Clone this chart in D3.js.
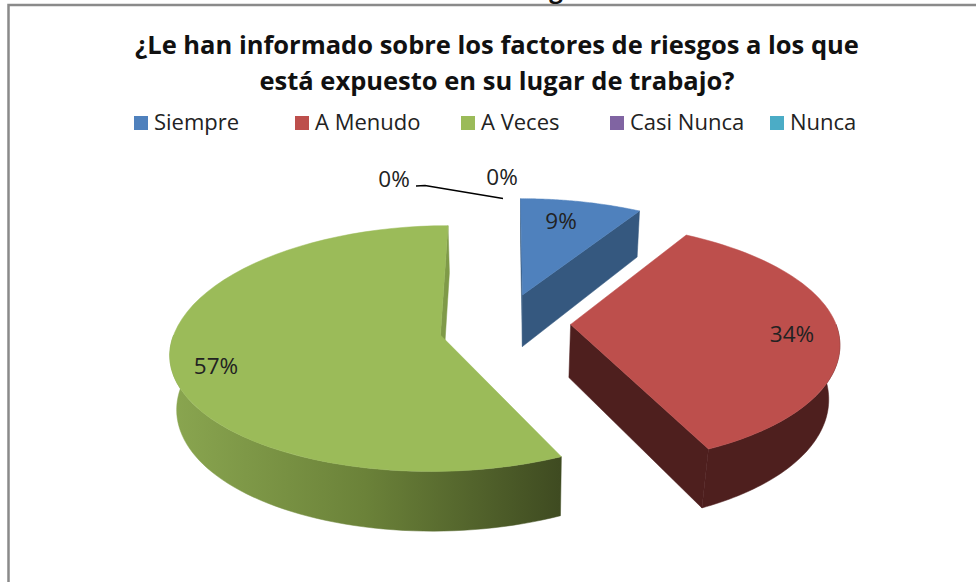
<!DOCTYPE html>
<html><head><meta charset="utf-8">
<script src="https://cdn.jsdelivr.net/npm/d3@7"></script>
<style>html,body{margin:0;padding:0;background:#fff;overflow:hidden}svg{display:block}</style>
</head><body><svg id="c" width="976" height="582"></svg>
<script>
const categories=["Siempre","A Menudo","A Veces","Casi Nunca","Nunca"];
const values=[8.6,34.4,57,0,0];
const percentLabels=["9%","34%","57%","0%","0%"];
const topColors=["#4f81bd","#bd4f4c","#9bbb59","#8064a2","#4bacc6"];
const sideColors=["#35587f","#4e1f1e","#7f9a48","#8064a2","#4bacc6"];
const titleLines=["¿Le han informado sobre los factores de riesgos a los que","está expuesto en su lugar de trabajo?"];

// layout
const W=976,H=582;
const cx=506,cy=329,A=265,B=116,P=0.136,explode=0.24;
const depth=53,depthGrow=0.12,wallCx=520;
const wallShrink=[.98,.965,.98,1,1];
const nudges=[[0,-8],[1,-6],[-3,0],[0,0],[0,0]];
const backLift=[0,0,6.3,0,0];
const frontDrop=[0,5,0,0,0];
const legendX=[134,295,461,610,770];
const labelSpots=[[561,221],[792,334],[216,366],[394,179],[502,177]];
const leader=[[416,186],[425,185.5],[503,198.5]];

const svg=d3.select("#c");
const defs=svg.append("defs");
const grad=defs.append("linearGradient").attr("id","gw").attr("gradientUnits","userSpaceOnUse")
  .attr("x1",170).attr("x2",560).attr("y1",0).attr("y2",0);
grad.append("stop").attr("offset",0).attr("stop-color","#8aa650");
grad.append("stop").attr("offset",0.5).attr("stop-color","#6b8239");
grad.append("stop").attr("offset",1).attr("stop-color","#3f4b21");

// frame
svg.append("rect").attr("x",8.5).attr("y",5).attr("width",W+20).attr("height",H+20)
  .attr("fill","#fff").attr("stroke","#8a8a8a").attr("stroke-width",2.5);
// cut-off caption line above the frame
svg.append("text").attr("x",556).attr("y",-2).attr("text-anchor","middle")
  .attr("font-family","'Open Sans',sans-serif").attr("font-weight",700).attr("font-size",24).attr("fill","#111").text("g");

// title
svg.append("g").selectAll("text").data(titleLines).join("text")
  .attr("x",497).attr("y",(d,i)=>i?90:54).attr("text-anchor","middle")
  .attr("font-family","'Open Sans',sans-serif").attr("font-weight",700).attr("font-size",25.5)
  .attr("fill","#111").text(d=>d);

// legend
const lg=svg.append("g").selectAll("g").data(categories).join("g")
  .attr("transform",(d,i)=>`translate(${legendX[i]},116)`);
lg.append("rect").attr("width",14).attr("height",14).attr("fill",(d,i)=>topColors[i]);
lg.append("text").attr("x",20).attr("y",14).attr("font-family","'Open Sans',sans-serif")
  .attr("font-size",22).attr("fill","#222").text(d=>d);

// 3D pie
const arcs=d3.pie().sort(null).value(d=>d)(values);
function point(slice,i,angle,radial,z){
  const mid=(slice.startAngle+slice.endAngle)/2;
  const u=explode*Math.sin(mid)+radial*Math.sin(angle);
  const v=-explode*Math.cos(mid)-radial*Math.cos(angle);
  const w=1/(1-P*v);
  let X=cx+A*u*w, Y=cy+B*v*w+(v<0?backLift[i]*v:frontDrop[i]*v);
  if(z){X=wallCx+(X-wallCx)*wallShrink[i]; Y+=depth*(1+depthGrow*v);}
  return [X+nudges[i][0],Y+nudges[i][1]];
}
const line=d3.line();
const rim=(s,i,a0,a1,z)=>d3.range(0,61).map(k=>point(s,i,a0+(a1-a0)*k/60,1,z));
const g=svg.append("g");
arcs.forEach((s,i)=>{
  if(s.endAngle-s.startAngle<1e-6) return;
  const fill=i==2?"url(#gw)":sideColors[i];
  // outer wall: front half only
  const a0=Math.max(s.startAngle,Math.PI/2), a1=Math.min(s.endAngle,Math.PI*1.5);
  if(a1>a0){
    const poly=rim(s,i,a0,a1,false).concat(rim(s,i,a0,a1,true).reverse());
    g.append("path").attr("d",line(poly)+"Z").attr("fill",fill).attr("stroke",fill).attr("stroke-width",.5);
  }
  // cut faces, only if they face the viewer
  [[s.startAngle,1],[s.endAngle,-1]].forEach(([a,sign])=>{
    const face=[point(s,i,a,0,false),point(s,i,a,1,false),point(s,i,a,1,true),point(s,i,a,0,true)];
    if(d3.polygonArea(face)*sign>0) g.append("path").attr("d",line(face)+"Z").attr("fill",sideColors[i]).attr("stroke",sideColors[i]).attr("stroke-width",.5);
  });
  // top
  const top=[point(s,i,s.startAngle,0,false)].concat(rim(s,i,s.startAngle,s.endAngle,false));
  g.append("path").attr("d",line(top)+"Z").attr("fill",topColors[i]).attr("stroke",topColors[i]).attr("stroke-width",.5);
});

// leader
svg.append("path").attr("d",line(leader)).attr("fill","none").attr("stroke","#000").attr("stroke-width",1.6);

// labels
svg.append("g").selectAll("text").data(percentLabels).join("text")
  .attr("x",(d,i)=>labelSpots[i][0]).attr("y",(d,i)=>labelSpots[i][1]+8)
  .attr("text-anchor","middle").attr("font-family","'Open Sans',sans-serif").attr("font-size",22.5)
  .attr("fill","#222").text(d=>d);
</script></body></html>
